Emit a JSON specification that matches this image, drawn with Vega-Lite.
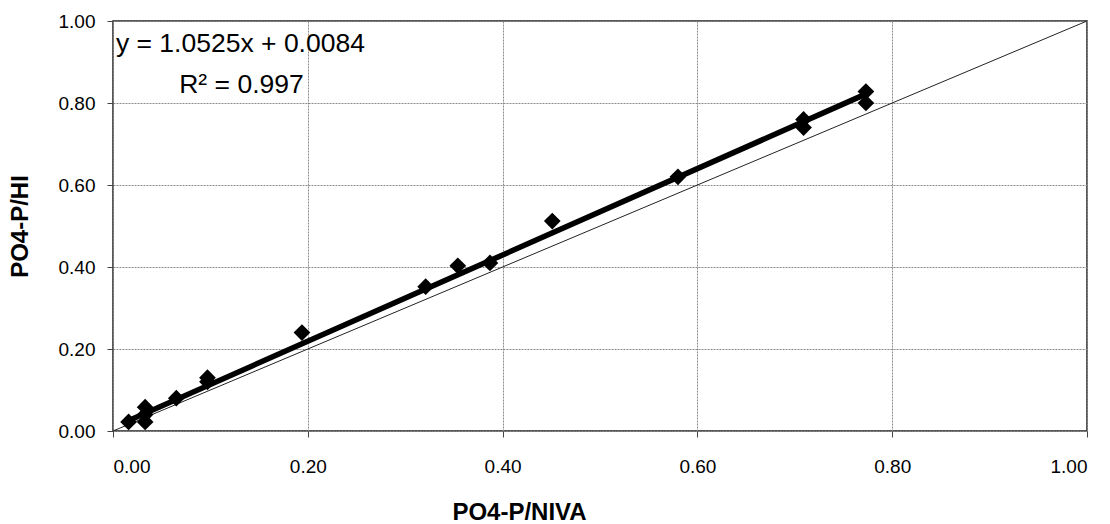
{
  "$schema": "https://vega.github.io/schema/vega-lite/v6.json",
  "width": 974,
  "height": 410,
  "autosize": {"type": "none"},
  "padding": {"left": 113, "top": 21, "right": 23, "bottom": 93},
  "background": "white",
  "config": {
    "font": "Liberation Sans",
    "view": {"stroke": "#222", "strokeWidth": 1.5},
    "axis": {
      "grid": true,
      "gridColor": "#8a8a8a",
      "gridDash": [2, 1],
      "gridWidth": 1,
      "domain": false,
      "tickColor": "#444",
      "tickSize": 6,
      "labelFontSize": 19,
      "labelColor": "#000",
      "titleFontSize": 24,
      "titleFontWeight": "bold",
      "titleColor": "#000"
    }
  },
  "datasets": {
    "points": [
      {"niva": 0.016, "hi": 0.022},
      {"niva": 0.033, "hi": 0.022},
      {"niva": 0.033, "hi": 0.04},
      {"niva": 0.033, "hi": 0.058},
      {"niva": 0.065, "hi": 0.08},
      {"niva": 0.097, "hi": 0.12},
      {"niva": 0.097, "hi": 0.13},
      {"niva": 0.194, "hi": 0.24},
      {"niva": 0.321, "hi": 0.352},
      {"niva": 0.354, "hi": 0.403},
      {"niva": 0.387, "hi": 0.41},
      {"niva": 0.451, "hi": 0.512},
      {"niva": 0.58, "hi": 0.62},
      {"niva": 0.709, "hi": 0.74},
      {"niva": 0.709, "hi": 0.76},
      {"niva": 0.773, "hi": 0.80},
      {"niva": 0.773, "hi": 0.828}
    ],
    "trend": [
      {"niva": 0.014, "hi": 0.0231},
      {"niva": 0.775, "hi": 0.8241}
    ],
    "identity": [
      {"niva": 0, "hi": 0},
      {"niva": 1, "hi": 1}
    ],
    "labels": [
      {"niva": 0.003, "hi": 0.945, "text": "y = 1.0525x + 0.0084"},
      {"niva": 0.068, "hi": 0.843, "text": "R² = 0.997"}
    ]
  },
  "layer": [
    {
      "data": {"name": "identity"},
      "mark": {"type": "line", "color": "#222", "strokeWidth": 1},
      "encoding": {
        "x": {"field": "niva", "type": "quantitative", "scale": {"domain": [0, 1], "nice": false},
              "axis": {"values": [0, 0.2, 0.4, 0.6, 0.8, 1], "format": ".2f", "title": "PO4-P/NIVA", "titlePadding": 24, "labelPadding": 20, "titleX": 406, "titleAnchor": "start", "titleAlign": "center"}},
        "y": {"field": "hi", "type": "quantitative", "scale": {"domain": [0, 1], "nice": false},
              "axis": {"values": [0, 0.2, 0.4, 0.6, 0.8, 1], "format": ".2f", "title": "PO4-P/HI", "titlePadding": 26, "labelPadding": 12}}
      }
    },
    {
      "data": {"name": "trend"},
      "mark": {"type": "line", "color": "#000", "strokeWidth": 5.5, "strokeCap": "round"},
      "encoding": {
        "x": {"field": "niva", "type": "quantitative"},
        "y": {"field": "hi", "type": "quantitative"}
      }
    },
    {
      "data": {"name": "points"},
      "mark": {"type": "point", "shape": "diamond", "filled": true, "color": "#000", "opacity": 1, "size": 280},
      "encoding": {
        "x": {"field": "niva", "type": "quantitative"},
        "y": {"field": "hi", "type": "quantitative"}
      }
    },
    {
      "data": {"name": "labels"},
      "mark": {"type": "text", "align": "left", "baseline": "middle", "fontSize": 26.5, "color": "#000"},
      "encoding": {
        "x": {"field": "niva", "type": "quantitative"},
        "y": {"field": "hi", "type": "quantitative"},
        "text": {"field": "text"}
      }
    }
  ]
}
